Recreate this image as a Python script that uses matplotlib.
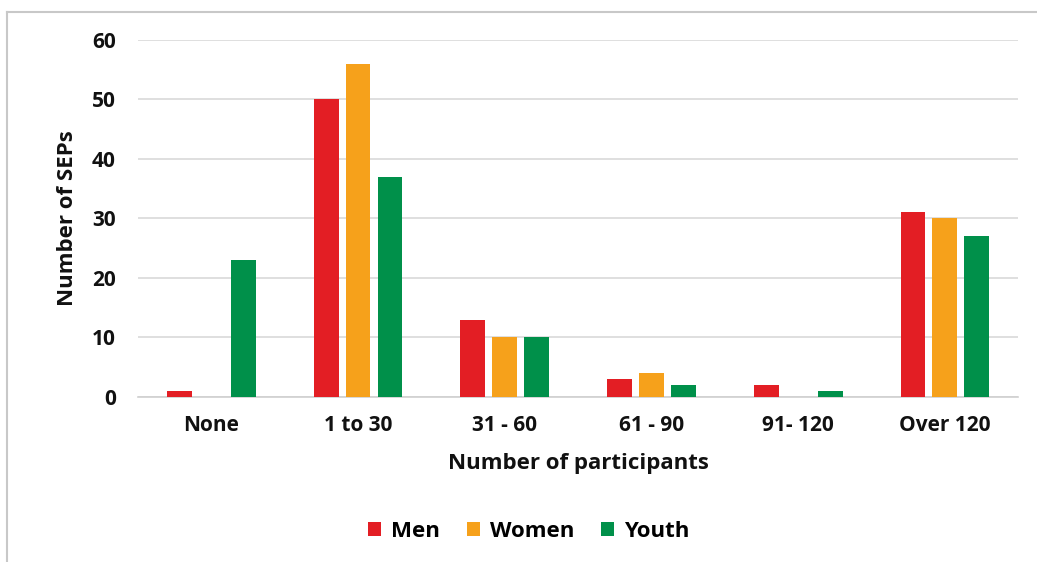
import matplotlib
matplotlib.use("Agg")
import matplotlib.pyplot as plt
import numpy as np
from matplotlib.lines import Line2D

categories = ["None", "1 to 30", "31 - 60", "61 - 90", "91- 120", "Over 120"]
men = [1, 50, 13, 3, 2, 31]
women = [0, 56, 10, 4, 0, 30]
youth = [23, 37, 10, 2, 1, 27]
series = [("Men", men, "#E31E24"), ("Women", women, "#F6A11B"), ("Youth", youth, "#00904A")]

plt.rcParams['font.family'] = ['Open Sans', 'DejaVu Sans']
fig = plt.figure(figsize=(10.37, 5.62), dpi=100)
ax = fig.add_axes([0.133, 0.2936, 0.849, 0.6354])

x = np.arange(len(categories))
w = 0.17
offs = [-0.218, 0, 0.218]
for (name, vals, col), o in zip(series, offs):
    ax.bar(x + o, vals, w, color=col, label=name, zorder=3)

ax.set_xlim(-0.5, 5.5)
ax.set_ylim(0, 60)
ax.set_yticks(range(0, 61, 10))
ax.grid(axis='y', color='#D9D9D9', linewidth=1.2, zorder=0)
for s in ['top', 'right', 'left']:
    ax.spines[s].set_visible(False)
ax.spines['bottom'].set_color('#D0D0D0')
ax.spines['bottom'].set_linewidth(1.2)
ax.tick_params(length=0)
ax.tick_params(axis='y', pad=16)
ax.tick_params(axis='x', pad=13)
ax.set_xticks(x)
ax.set_xticklabels(categories)
for lbl in ax.get_xticklabels() + ax.get_yticklabels():
    lbl.set_fontsize(15)
    lbl.set_fontweight('bold')
    lbl.set_color('#111111')
ax.set_xlabel("Number of participants", fontsize=16, fontweight='bold', labelpad=12, color='#111111')
ax.set_ylabel("Number of SEPs", fontsize=16, fontweight='bold', labelpad=10, color='#111111')

leg = fig.legend(loc='center', bbox_to_anchor=(0.51, 0.055), ncol=3, frameon=False,
                 prop={'size': 16, 'weight': 'bold'}, handlelength=0.6, handleheight=0.6,
                 columnspacing=1.2, handletextpad=0.45)

# outer frame
fig.add_artist(Line2D([0.007, 0.007], [0, 0.979], transform=fig.transFigure, color='#C8C8C8', lw=1.5))
fig.add_artist(Line2D([0.007, 1.0], [0.979, 0.979], transform=fig.transFigure, color='#C8C8C8', lw=1.5))

fig.savefig("out.png", dpi=100, facecolor='white')
